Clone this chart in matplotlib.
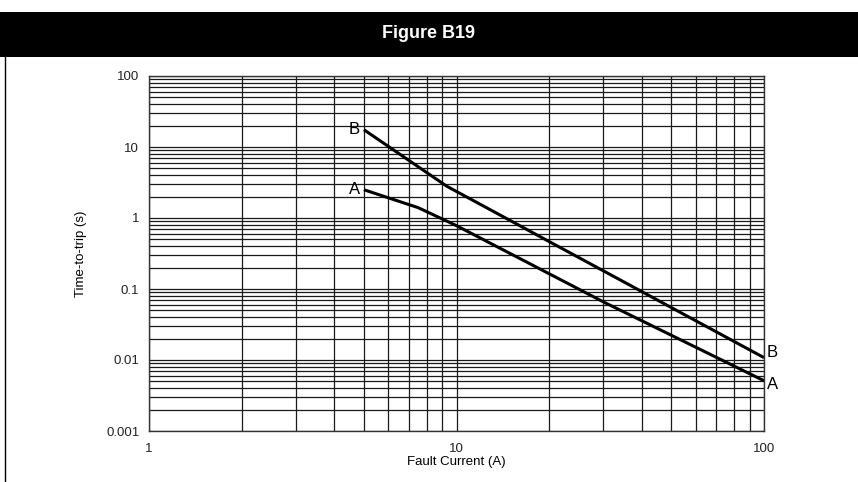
import matplotlib.pyplot as plt
from matplotlib.ticker import LogLocator, NullFormatter, FixedLocator, FixedFormatter
from matplotlib.patches import Rectangle
from matplotlib.lines import Line2D

# curve data (current in A, time in s)
a_current = [5, 7.5, 10, 30, 100]
a_time = [2.5, 1.4, 0.78, 0.066, 0.0051]
b_current = [5, 9.3, 100]
b_time = [17.5, 2.8, 0.0108]

x_ticks = [1, 10, 100]
x_labels = ["1", "10", "100"]
y_ticks = [0.001, 0.01, 0.1, 1, 10, 100]
y_labels = ["0.001", "0.01", "0.1", "1", "10", "100"]

plt.rcParams['font.family'] = ['Liberation Sans', 'DejaVu Sans']

fig = plt.figure(figsize=(8.58, 4.82), dpi=100)

# black header band with title
fig.patches.append(Rectangle((0, 1 - 57 / 482), 1, 45 / 482, transform=fig.transFigure,
                             facecolor='black', edgecolor='none', zorder=0))
fig.text(0.5, 1 - 34 / 482, "Figure B19", color='white', fontsize=13, fontweight='bold',
         ha='center', va='center', fontstretch='condensed')
# left frame line
fig.lines.append(Line2D([5 / 858, 5 / 858], [0, 1 - 57 / 482], transform=fig.transFigure,
                        color='black', lw=1))

ax = fig.add_axes([149 / 858, 1 - 431 / 482, 615 / 858, 355 / 482])
ax.set_xscale('log')
ax.set_yscale('log')
ax.set_xlim(1, 100)
ax.set_ylim(0.001, 100)

ax.xaxis.set_major_locator(FixedLocator(x_ticks))
ax.xaxis.set_major_formatter(FixedFormatter(x_labels))
ax.yaxis.set_major_locator(FixedLocator(y_ticks))
ax.yaxis.set_major_formatter(FixedFormatter(y_labels))
ax.xaxis.set_minor_locator(LogLocator(base=10, subs=range(2, 10)))
ax.yaxis.set_minor_locator(LogLocator(base=10, subs=range(2, 10)))
ax.xaxis.set_minor_formatter(NullFormatter())
ax.yaxis.set_minor_formatter(NullFormatter())

ax.grid(which='both', color='#1a1a1a', lw=0.9)
ax.tick_params(which='both', length=0, labelsize=9.5, colors='#222222', pad=7)
ax.tick_params(axis='x', pad=9)
for s in ax.spines.values():
    s.set_color('#333333')
    s.set_linewidth(1)

ax.plot(a_current, a_time, color='black', lw=2.2, solid_capstyle='butt')
ax.plot(b_current, b_time, color='black', lw=2.2, solid_capstyle='butt')

ax.text(a_current[0] * 0.97, a_time[0], "A", ha='right', va='center', fontsize=12)
ax.text(b_current[0] * 0.97, b_time[0], "B", ha='right', va='center', fontsize=12)
ax.text(a_current[-1] * 1.02, a_time[-1] * 0.9, "A", ha='left', va='center', fontsize=12)
ax.text(b_current[-1] * 1.02, b_time[-1] * 1.2, "B", ha='left', va='center', fontsize=12)

ax.set_xlabel("Fault Current (A)", fontsize=9.5, labelpad=0)
ax.set_ylabel("Time-to-trip (s)", fontsize=9.5, labelpad=14)

fig.savefig("out.png", dpi=100)
